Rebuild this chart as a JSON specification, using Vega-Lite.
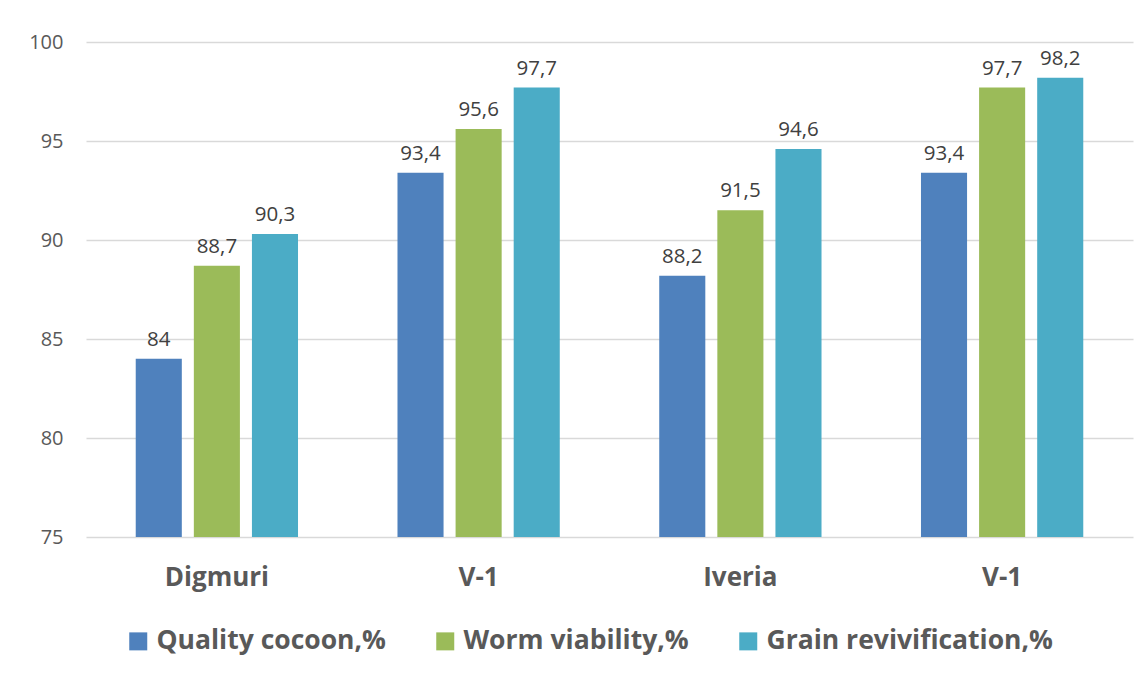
{
  "$schema": "https://vega.github.io/schema/vega-lite/v6.json",
  "width": 1047,
  "height": 495,
  "autosize": "none",
  "padding": {"left": 86, "top": 42, "right": 15, "bottom": 140},
  "background": "white",
  "config": {
    "view": {"stroke": null},
    "font": "Open Sans"
  },
  "data": {
    "values": [
      {"g": "Digmuri", "s": "Quality cocoon,%", "v": 84},
      {"g": "Digmuri", "s": "Worm viability,%", "v": 88.7},
      {"g": "Digmuri", "s": "Grain revivification,%", "v": 90.3},
      {"g": "V-1#1", "s": "Quality cocoon,%", "v": 93.4},
      {"g": "V-1#1", "s": "Worm viability,%", "v": 95.6},
      {"g": "V-1#1", "s": "Grain revivification,%", "v": 97.7},
      {"g": "Iveria", "s": "Quality cocoon,%", "v": 88.2},
      {"g": "Iveria", "s": "Worm viability,%", "v": 91.5},
      {"g": "Iveria", "s": "Grain revivification,%", "v": 94.6},
      {"g": "V-1#2", "s": "Quality cocoon,%", "v": 93.4},
      {"g": "V-1#2", "s": "Worm viability,%", "v": 97.7},
      {"g": "V-1#2", "s": "Grain revivification,%", "v": 98.2}
    ]
  },
  "encoding": {
    "x": {
      "field": "g",
      "type": "nominal",
      "sort": ["Digmuri", "V-1#1", "Iveria", "V-1#2"],
      "scale": {"paddingInner": 0.38, "paddingOuter": 0.19},
      "axis": {
        "title": null,
        "labelExpr": "split(datum.label, '#')[0]",
        "labelAngle": 0,
        "labelFontSize": 26,
        "labelFontWeight": "bold",
        "labelColor": "#595959",
        "labelPadding": 27,
        "ticks": false,
        "domain": false
      }
    },
    "xOffset": {
      "field": "s",
      "type": "nominal",
      "sort": ["Quality cocoon,%", "Worm viability,%", "Grain revivification,%"],
      "scale": {"paddingInner": 0.207, "paddingOuter": 0}
    },
    "y": {
      "field": "v",
      "type": "quantitative",
      "scale": {"domain": [75, 100], "zero": false, "nice": false},
      "axis": {
        "title": null,
        "values": [75, 80, 85, 90, 95, 100],
        "labelFontSize": 20,
        "labelColor": "#595959",
        "labelPadding": 23,
        "ticks": false,
        "domain": false,
        "gridColor": "#d9d9d9",
        "gridWidth": 1.5
      }
    }
  },
  "layer": [
    {
      "mark": {"type": "bar"},
      "encoding": {
        "y2": {"datum": 75},
        "color": {
          "field": "s",
          "type": "nominal",
          "scale": {
            "domain": ["Quality cocoon,%", "Worm viability,%", "Grain revivification,%"],
            "range": ["#4f81bd", "#9bbb59", "#4bacc6"]
          },
          "legend": {
            "title": null,
            "orient": "none",
            "direction": "horizontal",
            "legendX": 39,
            "legendY": 586,
            "symbolType": "square",
            "symbolSize": 324,
            "symbolStrokeWidth": 0,
            "labelFontSize": 26.5,
            "labelFontWeight": "bold",
            "labelColor": "#595959",
            "labelOffset": 5,
            "labelLimit": 500,
            "columnPadding": 46
          }
        }
      }
    },
    {
      "mark": {
        "type": "text",
        "baseline": "bottom",
        "dy": -9,
        "fontSize": 20.5,
        "color": "#404040",
        "text": {"expr": "replace(toString(datum.v), '.', ',')"}
      }
    }
  ]
}
